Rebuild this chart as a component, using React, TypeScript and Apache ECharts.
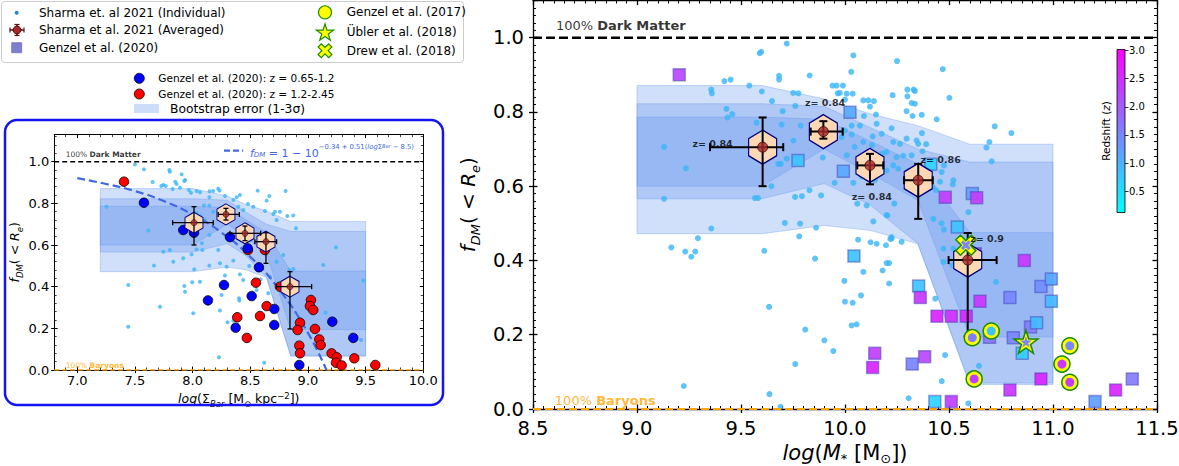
import React, { useEffect, useRef } from 'react';
import * as echarts from 'echarts';

const FONT = 'DejaVu Sans';

// ================= MAIN PANEL: f_DM vs log(M*) =================
const massTicks = [8.5, 9.0, 9.5, 10.0, 10.5, 11.0, 11.5];
const fdmTicks = [0.0, 0.2, 0.4, 0.6, 0.8, 1.0];

// Sharma et al. 2021 individual galaxies [logM*, fDM]
const sharmaIndividualMass: number[][] = [
  [9.13, 0.706], [9.13, 0.566], [9.235, 0.648], [9.357, 0.86], [9.36, 0.85], [9.42, 0.883], [9.45, 0.887], [9.43, 0.808],
  [9.435, 0.785], [9.458, 0.794], [9.54, 0.871], [9.6, 0.855], [9.59, 0.958], [9.597, 0.962], [9.575, 0.771], [9.567, 0.568],
  [9.582, 0.568], [9.357, 0.486], [9.293, 0.46], [9.165, 0.435], [9.232, 0.424], [9.28, 0.424], [9.261, 0.41], [9.225, 0.062],
  [9.637, 0.04], [9.612, 0.426], [9.635, 0.275], [9.69, 0.006], [9.72, 0.984], [9.683, 0.897], [9.683, 0.887], [9.83, 0.898],
  [9.776, 0.85], [9.751, 0.851], [9.7, 0.802], [9.649, 0.829], [9.761, 0.816], [9.695, 0.766], [9.787, 0.763], [9.752, 0.723],
  [9.72, 0.674], [9.691, 0.66], [9.639, 0.689], [9.646, 0.6], [9.679, 0.66], [9.76, 0.571], [9.793, 0.573], [9.829, 0.589],
  [9.885, 0.575], [9.893, 0.677], [9.711, 0.501], [9.784, 0.499], [9.861, 0.488], [9.78, 0.465], [9.856, 0.405], [9.809, 0.214],
  [9.901, 0.185], [9.944, 0.156], [9.761, 0.121], [9.95, 0.609], [10.04, 0.609], [9.94, 0.871], [9.96, 0.871], [9.99, 0.871],
  [10.008, 0.849], [10.037, 0.849], [9.965, 0.85], [9.975, 0.851], [10.0, 0.833], [10.04, 0.952], [10.03, 0.908], [10.25, 0.937],
  [10.47, 0.915], [10.229, 0.845], [10.336, 0.856], [10.502, 0.838], [10.336, 0.822], [10.296, 0.802], [10.325, 0.789], [10.369, 0.792],
  [10.441, 0.78], [10.088, 0.831], [10.112, 0.831], [10.139, 0.829], [10.12, 0.814], [10.149, 0.793], [10.091, 0.789], [10.152, 0.768],
  [10.072, 0.763], [10.032, 0.763], [10.0, 0.75], [10.032, 0.739], [9.984, 0.732], [10.088, 0.719], [10.224, 0.756], [10.176, 0.741],
  [10.133, 0.734], [10.232, 0.719], [10.296, 0.728], [10.344, 0.723], [10.352, 0.714], [10.373, 0.694], [10.264, 0.714], [10.2, 0.692],
  [10.248, 0.678], [10.008, 0.683], [10.104, 0.633], [10.08, 0.626], [10.2, 0.642], [10.144, 0.616], [10.232, 0.656], [10.256, 0.647],
  [10.476, 0.656], [10.465, 0.638], [10.521, 0.616], [10.518, 0.605], [10.457, 0.612], [10.42, 0.598], [10.438, 0.589], [10.059, 0.553],
  [10.104, 0.548], [10.237, 0.553], [10.203, 0.521], [10.425, 0.512], [10.476, 0.483], [10.224, 0.463], [10.272, 0.45], [10.136, 0.505],
  [10.152, 0.445], [10.197, 0.441], [10.088, 0.369], [10.2, 0.393], [10.212, 0.393], [10.181, 0.373], [10.212, 0.338], [9.997, 0.345],
  [10.077, 0.306], [10.0, 0.289], [10.037, 0.286], [10.056, 0.228], [10.032, 0.225], [10.434, 0.297], [10.481, 0.145], [10.465, 0.075],
  [10.644, 0.116], [10.306, 0.029], [10.593, 0.015], [10.473, 0.432], [10.473, 0.396], [10.518, 0.387], [10.521, 0.432], [10.705, 0.667],
  [10.694, 0.719], [10.72, 0.761], [10.8, 0.743], [10.68, 0.704], [10.593, 0.53], [10.464, 0.5], [10.2, 0.522], [10.224, 0.459],
  [10.726, 0.342], [10.063, 0.456], [10.123, 0.449], [10.218, 0.458], [10.046, 0.706], [10.13, 0.711], [10.18, 0.688], [10.28, 0.682],
  [10.32, 0.683], [10.37, 0.743], [10.39, 0.713], [10.3, 0.86], [10.33, 0.86], [10.3, 0.842], [10.32, 0.824],
];

// Genzel et al. (2020) squares [logM*, fDM, z]
const genzel2020: number[][] = [
  [9.203, 0.9, 2.2], [10.024, 0.799, 1.1], [9.774, 0.669, 0.8], [9.992, 0.64, 1.1], [10.412, 0.659, 0.6], [10.482, 0.57, 2.3],
  [10.612, 0.58, 1.2], [10.633, 0.569, 2.3], [10.54, 0.49, 0.8], [10.043, 0.412, 0.8], [10.354, 0.331, 0.8], [10.362, 0.3, 2.4],
  [10.442, 0.25, 2.6], [10.511, 0.25, 2.5], [10.583, 0.25, 2.6], [10.626, 0.418, 2.3], [10.862, 0.4, 2.4], [10.649, 0.29, 2.4],
  [10.793, 0.3, 1.5], [10.942, 0.33, 1.4], [10.992, 0.35, 1.1], [10.992, 0.29, 0.9], [10.695, 0.193, 1.6], [10.809, 0.192, 1.5],
  [10.892, 0.221, 1.6], [10.921, 0.232, 0.9], [10.852, 0.15, 0.7], [10.323, 0.121, 1.5], [10.383, 0.141, 2.2], [10.143, 0.15, 2.3],
  [10.133, 0.112, 2.6], [10.942, 0.081, 2.6], [10.793, 0.051, 2.4], [11.301, 0.051, 2.6], [11.381, 0.081, 1.6], [10.432, 0.02, 0.6],
  [10.511, 0.02, 2.3], [11.202, 0.02, 1.2],
];
// Genzel et al. (2017) [logM*, fDM, z]
const genzel2017: number[][] = [
  [10.612, 0.192, 1.6], [10.703, 0.21, 0.8], [11.081, 0.17, 1.5], [11.043, 0.121, 2.4], [11.081, 0.072, 2.3], [10.621, 0.081, 2.3],
];
const ubler2018: number[][] = [[10.87, 0.181, 1.5]];
const drew2018: number[][] = [[10.581, 0.441, 1.5]];

// Sharma et al. 2021 averaged (bins)
const avgMass = [9.604, 9.896, 10.12, 10.352, 10.59];
const avgFdm = [0.705, 0.747, 0.656, 0.616, 0.401];
const avgMassLo = [9.351, 9.835, 10.059, 10.284, 10.498];
const avgMassHi = [9.703, 9.989, 10.184, 10.422, 10.729];
const avgFdmLo = [0.6, 0.728, 0.605, 0.512, 0.196];
const avgFdmHi = [0.785, 0.775, 0.687, 0.66, 0.474];
const avgZText = ['z= 0.84', 'z= 0.84', 'z= 0.84', 'z= 0.86', 'z= 0.9'];
const avgZLabelX = [9.363, 9.904, 10.129, 10.46, 10.683];
const avgZLabelY = [0.714, 0.825, 0.573, 0.672, 0.46];

// Bootstrap bands (1-3 sigma)
const bandMass = [9.0, 9.6, 9.9, 10.12, 10.35, 10.6, 11.0];
const sig3Up = [0.871, 0.871, 0.835, 0.795, 0.763, 0.713, 0.713];
const sig3Lo = [0.472, 0.472, 0.494, 0.481, 0.445, 0.066, 0.066];
const sig2Up = [0.822, 0.822, 0.815, 0.758, 0.7, 0.665, 0.665];
const sig2Lo = [0.566, 0.566, 0.607, 0.55, 0.445, 0.07, 0.07];
const sig1Up = [0.786, 0.786, 0.78, 0.722, 0.66, 0.475, 0.475];
const sig1Lo = [0.6, 0.6, 0.7, 0.635, 0.562, 0.194, 0.194];

// ================= INSET: f_DM vs log(Sigma_Bar) =================
const sigmaTicks = [7.0, 7.5, 8.0, 8.5, 9.0, 9.5, 10.0];
const sharmaIndividualSigma: number[][] = [
  [7.5, 0.987], [7.578, 0.963], [7.798, 0.96], [7.803, 0.952], [7.905, 0.939], [7.936, 0.912], [7.928, 0.907], [7.653, 0.902],
  [7.746, 0.888], [7.728, 0.883], [7.766, 0.883], [7.85, 0.904], [7.861, 0.893], [7.827, 0.869], [7.89, 0.875], [7.968, 0.864],
  [7.986, 0.851], [8.035, 0.859], [8.064, 0.853], [8.147, 0.858], [8.179, 0.859], [8.145, 0.829], [8.222, 0.87], [8.234, 0.861],
  [8.28, 0.835], [8.353, 0.816], [8.382, 0.829], [8.41, 0.84], [8.564, 0.861], [8.806, 0.859], [8.665, 0.835], [8.642, 0.813],
  [8.48, 0.797], [8.526, 0.784], [8.627, 0.763], [8.714, 0.76], [8.757, 0.76], [8.699, 0.749], [8.873, 0.742], [8.821, 0.739],
  [8.896, 0.68], [8.728, 0.72], [8.353, 0.771], [8.396, 0.784], [8.439, 0.768], [8.145, 0.789], [8.179, 0.76], [8.098, 0.79],
  [8.035, 0.752], [8.069, 0.739], [8.107, 0.72], [7.254, 0.784], [7.616, 0.669], [7.746, 0.568], [7.665, 0.501], [7.803, 0.576],
  [7.832, 0.52], [7.919, 0.536], [8.014, 0.483], [7.991, 0.555], [8.035, 0.579], [8.084, 0.576], [8.081, 0.608], [8.145, 0.648],
  [8.222, 0.576], [8.145, 0.501], [8.237, 0.512], [8.28, 0.454], [8.295, 0.496], [8.353, 0.525], [8.41, 0.459], [8.439, 0.432],
  [8.491, 0.499], [8.59, 0.435], [8.656, 0.368], [8.671, 0.448], [8.786, 0.552], [8.838, 0.48], [8.873, 0.485], [8.728, 0.52],
  [8.916, 0.424], [9.243, 0.589], [9.133, 0.504], [9.48, 0.429], [7.442, 0.408], [7.442, 0.208], [7.717, 0.304], [7.928, 0.403],
  [7.997, 0.421], [7.934, 0.376], [8.064, 0.424], [8.402, 0.344], [8.405, 0.333], [8.237, 0.286], [8.251, 0.36], [8.006, 0.272],
  [8.303, 0.229], [8.353, 0.237], [8.387, 0.269], [8.555, 0.384], [8.621, 0.035], [8.228, 0.061], [9.46, 0.144], [9.153, 0.275],
];
const genzelLowZ: number[][] = [
  [7.578, 0.803], [7.919, 0.672], [8.012, 0.659], [8.324, 0.638], [8.133, 0.334], [8.272, 0.408], [8.373, 0.203], [8.512, 0.355],
  [8.477, 0.584], [8.575, 0.493], [8.708, 0.293], [8.708, 0.216], [8.925, 0.024], [9.211, 0.232], [9.393, 0.154],
];
const genzelHighZ: number[][] = [
  [7.405, 0.904], [8.549, 0.419], [8.387, 0.253], [8.47, 0.154], [8.584, 0.259], [8.642, 0.307], [8.757, 0.4], [8.931, 0.227],
  [8.91, 0.192], [8.925, 0.117], [8.931, 0.08], [9.026, 0.336], [9.017, 0.307], [9.046, 0.288], [9.061, 0.197], [9.098, 0.147],
  [9.11, 0.12], [9.205, 0.08], [9.249, 0.061], [9.243, 0.035], [9.292, 0.022], [9.402, 0.056], [9.584, 0.024], [8.48, 0.576],
  [8.627, 0.576],
];
const fitSigma = [7.0, 7.25, 7.5, 7.75, 8.0, 8.25, 8.5, 8.75, 9.0, 9.16];
const fitFdm = [0.921, 0.893, 0.859, 0.811, 0.746, 0.66, 0.543, 0.387, 0.178, 0.0];
const avgSigma = [8.012, 8.289, 8.454, 8.636, 8.844];
const avgSigmaLo = [7.827, 8.222, 8.324, 8.54, 8.728];
const avgSigmaHi = [8.179, 8.405, 8.59, 8.728, 9.032];
const avgFdmInset = [0.707, 0.747, 0.656, 0.616, 0.4];
const avgFdmInsetLo = [0.6, 0.72, 0.621, 0.512, 0.197];
const avgFdmInsetHi = [0.784, 0.776, 0.691, 0.659, 0.472];
const bandSigma = [7.2, 8.0, 8.3, 8.46, 8.64, 8.85, 9.5];

// colour bar
const redshiftTicks = [0.5, 1.0, 1.5, 2.0, 2.5, 3.0];
const zMin = 0.12;
const zMax = 3.02;

// ------------------------------------------------------------------
const HEX = 'path://M50,0L93.3,25L93.3,75L50,100L6.7,75L6.7,25Z';
const STAR = 'path://M0,-100L22.45,-30.9L95.1,-30.9L36.3,11.8L58.8,80.9L0,38.2L-58.8,80.9L-36.3,11.8L-95.1,-30.9L-22.45,-30.9Z';
const XMARK = 'path://M49.5,-91.9L91.9,-49.5L42.4,0L91.9,49.5L49.5,91.9L0,42.4L-49.5,91.9L-91.9,49.5L-42.4,0L-91.9,-49.5L-49.5,-91.9L0,-42.4Z';
const BAND_FILL = 'rgba(100,149,237,0.3)';
const DOT = '#3ab5f7';
const GREEN = '#1c8a00';
const f1 = (v: number) => v.toFixed(1);

function base(gridIndex: number, min: number, max: number): any {
  return {
    gridIndex, type: 'value', min, max,
    splitLine: { show: false }, axisLabel: { show: false },
    axisLine: { show: false, onZero: false }, axisTick: { show: false },
  };
}

function frame(gridIndex: number, dir: 'x' | 'y', min: number, max: number, o: any): any[] {
  const lw = o.lw;
  const lineOn = { show: true, onZero: false, lineStyle: { color: '#000', width: lw } };
  const tk = (inside: boolean, length: number, w: number, extra: any = {}) => ({ show: true, inside, length, lineStyle: { color: '#000', width: w }, ...extra });
  const p1 = dir === 'x' ? 'bottom' : 'left';
  const p2 = dir === 'x' ? 'top' : 'right';
  const major = o.majorCustom ? { customValues: o.majorCustom } : {};
  const majorInterval = o.majorCustom ? {} : { interval: o.major };
  return [
    {
      ...base(gridIndex, min, max), ...majorInterval, position: p1, axisLine: lineOn,
      axisTick: tk(false, o.outLen, lw, major),
      axisLabel: { show: true, fontSize: o.fs, color: '#000', fontFamily: FONT, margin: o.margin, formatter: f1, showMaxLabel: o.showMax, ...major },
      ...o.name,
    },
    { ...base(gridIndex, min, max), ...majorInterval, position: p1, axisTick: tk(true, o.inLen, lw, major) },
    { ...base(gridIndex, min, max), interval: o.minor, position: p1, axisTick: tk(true, o.minLen, lw * 0.75) },
    { ...base(gridIndex, min, max), ...majorInterval, position: p2, axisLine: lineOn, axisTick: tk(true, o.inLen, lw, major) },
    { ...base(gridIndex, min, max), interval: o.minor, position: p2, axisTick: tk(true, o.minLen, lw * 0.75) },
  ];
}

function richLabel(fs: number, sub: number, lift: number) {
  return {
    i: { fontFamily: FONT, fontStyle: 'italic', fontSize: fs, lineHeight: fs + 4, verticalAlign: 'top', color: '#000' },
    n: { fontFamily: FONT, fontSize: fs, lineHeight: fs + 4, verticalAlign: 'top', color: '#000' },
    s: { fontFamily: FONT, fontSize: sub, lineHeight: sub, verticalAlign: 'bottom', padding: [0, 0, lift, 0], color: '#000' },
    si: { fontFamily: FONT, fontStyle: 'italic', fontSize: sub, lineHeight: sub, verticalAlign: 'bottom', padding: [0, 0, lift, 0], color: '#000' },
    p: { fontFamily: FONT, fontSize: sub, lineHeight: sub, verticalAlign: 'top', color: '#000' },
  };
}

const bandRender = (xs: number[], bands: { up: number[]; lo: number[] }[]) => (params: any, api: any) => {
  const b = bands[params.dataIndex];
  const upper = xs.map((x, k) => api.coord([x, b.up[k]]));
  const lower = xs.map((x, k) => api.coord([x, b.lo[k]])).reverse();
  return { type: 'polygon', shape: { points: upper.concat(lower) }, style: { fill: BAND_FILL, stroke: 'rgba(100,149,237,0.35)', lineWidth: 1 } };
};

const errRender = (cap: number, lw: number) => (params: any, api: any) => {
  const x = api.value(0), y = api.value(1), xl = api.value(2), xh = api.value(3), yl = api.value(4), yh = api.value(5);
  const L = api.coord([xl, y]), R = api.coord([xh, y]), T = api.coord([x, yh]), B = api.coord([x, yl]);
  const st = { stroke: '#000', lineWidth: lw };
  const seg = (x1: number, y1: number, x2: number, y2: number) => ({ type: 'line', shape: { x1, y1, x2, y2 }, style: st });
  return {
    type: 'group',
    children: [
      seg(L[0], L[1], R[0], R[1]), seg(T[0], T[1], B[0], B[1]),
      seg(L[0], L[1] - cap, L[0], L[1] + cap), seg(R[0], R[1] - cap, R[0], R[1] + cap),
      seg(T[0] - cap, T[1], T[0] + cap, T[1]), seg(B[0] - cap, B[1], B[0] + cap, B[1]),
    ],
  };
};

function starPts(cx: number, cy: number, R: number) {
  const pts: number[][] = [];
  for (let k = 0; k < 10; k++) {
    const r = k % 2 === 0 ? R : R * 0.382;
    const a = -Math.PI / 2 + (k * Math.PI) / 5;
    pts.push([cx + r * Math.cos(a), cy + r * Math.sin(a)]);
  }
  return pts;
}
const xShape = [[0.495, -0.919], [0.919, -0.495], [0.424, 0], [0.919, 0.495], [0.495, 0.919], [0, 0.424], [-0.495, 0.919], [-0.919, 0.495], [-0.424, 0], [-0.919, -0.495], [-0.495, -0.919], [0, -0.424]];
const xPts = (cx: number, cy: number, s: number) => xShape.map(([a, b]) => [cx + a * s, cy + b * s]);

function text(x: number, y: number, t: string, fs: number, extra: any = {}) {
  return {
    type: 'text', x, y, z: 101,
    style: { text: t, fill: '#000', fontSize: fs, fontFamily: FONT, align: 'left', verticalAlign: 'middle', textAlign: 'left', textVerticalAlign: 'middle', ...extra },
  };
}
function seg(x1: number, y1: number, x2: number, y2: number, lw = 1.5, stroke = '#000', extra: any = {}) {
  return { type: 'line', z: 101, shape: { x1, y1, x2, y2 }, style: { stroke, lineWidth: lw, ...extra } };
}

function buildOption() {
  const mainBands = [{ up: sig3Up, lo: sig3Lo }, { up: sig2Up, lo: sig2Lo }, { up: sig1Up, lo: sig1Lo }];
  const mainErr = avgMass.map((x, i) => [x, avgFdm[i], avgMassLo[i], avgMassHi[i], avgFdmLo[i], avgFdmHi[i]]);
  const insetErr = avgSigma.map((x, i) => [x, avgFdmInset[i], avgSigmaLo[i], avgSigmaHi[i], avgFdmInsetLo[i], avgFdmInsetHi[i]]);
  const mainAvg = avgMass.map((x, i) => [x, avgFdm[i]]);
  const insetAvg = avgSigma.map((x, i) => [x, avgFdmInset[i]]);

  const mainX = frame(0, 'x', 8.5, 11.5, {
    lw: 1.3, major: 0.5, minor: 0.05, outLen: 4, inLen: 4.5, minLen: 3, fs: 19.5, margin: 9, showMax: true,
    name: {
      name: '{i|log}{n|(}{i|M}{s|*}{n| [M}{s|⊙}{n|])}', nameLocation: 'middle', nameGap: 25,
      nameTextStyle: { rich: richLabel(21, 13, 3) },
    },
  });
  const mainY = frame(0, 'y', 0, 1.1, {
    lw: 1.3, major: 0.2, minor: 0.02, outLen: 4, inLen: 4.5, minLen: 3, fs: 19.5, margin: 9, showMax: false,
    name: {
      name: '{i|f}{si|DM}{n|( < }{i|R}{si|e}{n|)}', nameLocation: 'middle', nameGap: 45, nameRotate: 90,
      nameTextStyle: { rich: richLabel(20, 13, 0) },
    },
  });
  const insetX = frame(1, 'x', 6.8, 10.0, {
    lw: 1.0, majorCustom: sigmaTicks, minor: 0.1, outLen: 3, inLen: 3.5, minLen: 2.5, fs: 13, margin: 4, showMax: true,
    name: {
      name: '{i|log}{n|(Σ}{si|Bar}{n| [M}{s|⊙}{n| kpc}{p|−2}{n|])}', nameLocation: 'middle', nameGap: 16,
      nameTextStyle: { rich: richLabel(12.5, 8.5, 0) },
    },
  });
  const insetY = frame(1, 'y', 0, 1.13, {
    lw: 1.0, major: 0.2, minor: 0.04, outLen: 3, inLen: 3.5, minLen: 2.5, fs: 13, margin: 5, showMax: false,
    name: {
      name: '{i|f}{si|DM}{n|( < }{i|R}{si|e}{n|)}', nameLocation: 'middle', nameGap: 26, nameRotate: 90,
      nameTextStyle: { rich: richLabel(12.5, 8.5, 0) },
    },
  });
  const cbX = [{ ...base(2, 0, 1), position: 'bottom' }];
  const cbY = [
    {
      ...base(2, zMin, zMax), position: 'right',
      axisTick: { show: true, inside: false, length: 3.5, customValues: redshiftTicks, lineStyle: { color: '#000', width: 0.8 } },
      axisLabel: { show: true, customValues: redshiftTicks, fontSize: 10, color: '#000', fontFamily: FONT, margin: 4, formatter: f1 },
    },
    {
      ...base(2, zMin, zMax), position: 'left',
      name: '{n|Redshift (}{i|z}{n|)}', nameLocation: 'middle', nameGap: 6, nameRotate: 90,
      nameTextStyle: {
        rich: {
          n: { fontFamily: FONT, fontSize: 10.5, color: '#000' },
          i: { fontFamily: FONT, fontSize: 10.5, fontStyle: 'italic', color: '#000' },
        },
      },
    },
  ];

  const M = { xAxisIndex: 0, yAxisIndex: 0 };
  const I = { xAxisIndex: 5, yAxisIndex: 5 };

  const series: any[] = [
    { type: 'custom', ...M, z: 1, silent: true, data: mainBands.map((b) => [bandMass[0], b.lo[0]]), renderItem: bandRender(bandMass, mainBands) },
    { type: 'scatter', ...M, z: 2, symbolSize: 6, itemStyle: { color: DOT }, data: sharmaIndividualMass },
    { type: 'scatter', ...M, z: 3, symbol: 'rect', symbolSize: 12, itemStyle: { opacity: 0.92, borderColor: 'rgba(70,70,180,0.55)', borderWidth: 1.5 }, data: genzel2020 },
    { type: 'line', ...M, z: 3, symbol: 'none', silent: true, lineStyle: { color: '#000', width: 2.5, type: [9, 4] }, data: [[8.5, 1.0], [11.5, 1.0]] },
    { type: 'line', ...M, z: 3, symbol: 'none', silent: true, lineStyle: { color: '#ffa500', width: 2, type: [8, 4] }, data: [[8.5, 0.0], [11.5, 0.0]] },
    { type: 'scatter', ...M, z: 4, symbol: HEX, symbolSize: [28, 34], itemStyle: { color: '#fdd8b5', borderColor: '#000080', borderWidth: 1.3, opacity: 1 }, data: mainAvg },
    { type: 'custom', ...M, z: 5, silent: true, data: mainErr, encode: { x: 0, y: 1 }, renderItem: errRender(4, 2) },
    { type: 'scatter', ...M, z: 6, symbolSize: 10, itemStyle: { color: '#a52a2a', borderColor: '#3a0000', borderWidth: 1 }, data: mainAvg },
    { type: 'scatter', ...M, z: 7, symbolSize: 16, itemStyle: { color: '#ffff00', borderColor: GREEN, borderWidth: 1.5, opacity: 1 }, data: genzel2017 },
    { type: 'scatter', ...M, z: 8, symbolSize: 9, itemStyle: { opacity: 1 }, data: genzel2017 },
    { type: 'scatter', ...M, z: 7, symbol: STAR, symbolSize: [24, 23], itemStyle: { color: '#ffff00', borderColor: GREEN, borderWidth: 1.5, opacity: 1 }, data: ubler2018 },
    { type: 'scatter', ...M, z: 8, symbol: STAR, symbolSize: [12, 11.5], itemStyle: { opacity: 1 }, data: ubler2018 },
    { type: 'scatter', ...M, z: 7, symbol: XMARK, symbolSize: [20, 20], itemStyle: { color: '#ffff00', borderColor: GREEN, borderWidth: 1.5, opacity: 1 }, data: drew2018 },
    { type: 'scatter', ...M, z: 8, symbol: XMARK, symbolSize: [10, 10], itemStyle: { opacity: 1 }, data: drew2018 },
    {
      type: 'scatter', ...M, z: 9, symbolSize: 0, silent: true,
      label: { show: true, position: 'inside', formatter: '{b}', fontSize: 9.5, fontWeight: 'bold', color: '#000', fontFamily: FONT },
      data: avgZLabelX.map((x, i) => ({ name: avgZText[i], value: [x, avgZLabelY[i]] })),
    },
    {
      type: 'scatter', ...M, z: 9, symbolSize: 0, silent: true,
      label: {
        show: true, position: 'right', distance: 0, formatter: (p: any) => p.name,
        rich: {
          n: { fontFamily: FONT, fontSize: 13, color: '#000' }, b: { fontFamily: FONT, fontSize: 13, fontWeight: 'bold', color: '#000' },
          on: { fontFamily: FONT, fontSize: 13, color: '#ffa500' }, ob: { fontFamily: FONT, fontSize: 13, fontWeight: 'bold', color: '#ffa500' },
        },
      },
      data: [
        { name: '{n|100% }{b|Dark Matter}', value: [8.61, 1.032] },
        { name: '{on|100% }{ob|Baryons}', value: [8.605, 0.023] },
      ],
    },
    { type: 'custom', ...I, z: 1, silent: true, data: mainBands.map((b) => [bandSigma[0], b.lo[0]]), renderItem: bandRender(bandSigma, mainBands) },
    { type: 'scatter', ...I, z: 2, symbolSize: 4, itemStyle: { color: DOT }, data: sharmaIndividualSigma },
    { type: 'scatter', ...I, z: 3, symbolSize: 9.5, itemStyle: { color: '#ff0000', borderColor: '#000', borderWidth: 0.8, opacity: 1 }, data: genzelHighZ },
    { type: 'scatter', ...I, z: 3, symbolSize: 9.5, itemStyle: { color: '#0000ff', borderColor: '#000', borderWidth: 0.8, opacity: 1 }, data: genzelLowZ },
    { type: 'line', ...I, z: 3, symbol: 'none', silent: true, lineStyle: { color: '#000', width: 1.5, type: [5, 3] }, data: [[6.8, 1.0], [10.0, 1.0]] },
    { type: 'line', ...I, z: 3, symbol: 'none', silent: true, lineStyle: { color: '#ffa500', width: 1.4, type: [5, 3] }, data: [[6.8, 0.0], [10.0, 0.0]] },
    { type: 'line', ...I, z: 3, symbol: 'none', smooth: true, silent: true, lineStyle: { color: '#4169e1', width: 2.2, type: [8, 4] }, data: fitSigma.map((x, i) => [x, fitFdm[i]]) },
    { type: 'scatter', ...I, z: 4, symbol: HEX, symbolSize: [18, 21], itemStyle: { color: '#fdd8b5', borderColor: '#000080', borderWidth: 1, opacity: 1 }, data: insetAvg },
    { type: 'custom', ...I, z: 5, silent: true, data: insetErr, encode: { x: 0, y: 1 }, renderItem: errRender(2.5, 1.3) },
    { type: 'scatter', ...I, z: 6, symbolSize: 6, itemStyle: { color: '#a52a2a', borderColor: '#3a0000', borderWidth: 0.8 }, data: insetAvg },
    {
      type: 'scatter', ...I, z: 9, symbolSize: 0, silent: true,
      label: {
        show: true, position: 'right', distance: 0, formatter: (p: any) => p.name,
        rich: {
          n: { fontFamily: FONT, fontSize: 7.5, color: '#000' }, b: { fontFamily: FONT, fontSize: 7.5, fontWeight: 'bold', color: '#000' },
          on: { fontFamily: FONT, fontSize: 7.5, color: '#ffa500' }, ob: { fontFamily: FONT, fontSize: 7.5, fontWeight: 'bold', color: '#ffa500' },
        },
      },
      data: [
        { name: '{n|100% }{b|Dark Matter}', value: [6.9, 1.035] },
        { name: '{on|100% }{ob|Baryons}', value: [6.9, 0.024] },
      ],
    },
    {
      type: 'custom', xAxisIndex: 10, yAxisIndex: 10, z: 10, silent: true, data: [[0, zMin]],
      renderItem: (params: any, api: any) => {
        const a = api.coord([0, zMax]);
        const b = api.coord([1, zMin]);
        return {
          type: 'rect', shape: { x: a[0], y: a[1], width: b[0] - a[0], height: b[1] - a[1] },
          style: {
            fill: new echarts.graphic.LinearGradient(0, 0, 0, 1, [{ offset: 0, color: '#ff00ff' }, { offset: 1, color: '#00ffff' }]),
            stroke: '#000', lineWidth: 0.8,
          },
        };
      },
    },
  ];

  const BL = '#4169e1';
  const blueRich = {
    f: { fontFamily: FONT, fontStyle: 'italic', fontSize: 11, lineHeight: 15, verticalAlign: 'bottom', color: BL },
    fs: { fontFamily: FONT, fontStyle: 'italic', fontSize: 7, lineHeight: 7, verticalAlign: 'bottom', color: BL },
    n: { fontFamily: FONT, fontSize: 11, lineHeight: 15, verticalAlign: 'bottom', color: BL },
    p: { fontFamily: FONT, fontSize: 6.8, lineHeight: 8, verticalAlign: 'top', color: BL },
    pi: { fontFamily: FONT, fontStyle: 'italic', fontSize: 6.8, lineHeight: 8, verticalAlign: 'top', color: BL },
    ps: { fontFamily: FONT, fontStyle: 'italic', fontSize: 5, lineHeight: 11, verticalAlign: 'top', color: BL },
  };

  const graphic: any[] = [
    { type: 'rect', z: 100, shape: { x: 1.5, y: 1.5, width: 462, height: 61, r: 3 }, style: { fill: '#fff', stroke: '#cccccc', lineWidth: 1 } },
    { type: 'circle', z: 101, shape: { cx: 16.7, cy: 12.7, r: 2 }, style: { fill: '#2b86c9' } },
    text(39, 12.7, 'Sharma et. al 2021 (Individual)', 12),
    seg(10, 30, 24, 30, 1.5, '#5a1010'), seg(17, 24.5, 17, 35.5, 1.5, '#5a1010'),
    seg(10, 27.5, 10, 32.5, 1.2, '#5a1010'), seg(24, 27.5, 24, 32.5, 1.2, '#5a1010'),
    seg(14.5, 24.5, 19.5, 24.5, 1.2, '#5a1010'), seg(14.5, 35.5, 19.5, 35.5, 1.2, '#5a1010'),
    { type: 'circle', z: 102, shape: { cx: 17, cy: 30, r: 4 }, style: { fill: '#a52a2a', stroke: '#3a0000', lineWidth: 0.8 } },
    text(39, 30, 'Sharma et al. 2021 (Averaged)', 12),
    { type: 'rect', z: 101, shape: { x: 11.7, y: 42.7, width: 10, height: 10 }, style: { fill: '#7f7fcf', stroke: '#7070c0', lineWidth: 0.8 } },
    text(39, 47.7, 'Genzel et al. (2020)', 12),
    { type: 'circle', z: 101, shape: { cx: 325, cy: 12.3, r: 6.5 }, style: { fill: '#ffff00', stroke: GREEN, lineWidth: 1.2 } },
    text(346.7, 12.3, 'Genzel et al. (2017)', 12),
    { type: 'polygon', z: 101, shape: { points: starPts(325, 33, 9) }, style: { fill: '#ffff00', stroke: GREEN, lineWidth: 1.2 } },
    text(346.7, 32.3, 'Übler et al. (2018)', 12),
    { type: 'polygon', z: 101, shape: { points: xPts(325, 50.7, 7.5) }, style: { fill: '#ffff00', stroke: GREEN, lineWidth: 1.2 } },
    text(346.7, 50.7, 'Drew et al. (2018)', 12),
    { type: 'circle', z: 101, shape: { cx: 139.3, cy: 78.3, r: 5 }, style: { fill: '#0000ff', stroke: '#000', lineWidth: 0.8 } },
    text(158.3, 78.3, 'Genzel et al. (2020): z = 0.65-1.2', 10.5),
    { type: 'circle', z: 101, shape: { cx: 139.3, cy: 94, r: 5 }, style: { fill: '#ff0000', stroke: '#000', lineWidth: 0.8 } },
    text(158.3, 94, 'Genzel et al. (2020): z = 1.2-2.45', 10.5),
    { type: 'rect', z: 101, shape: { x: 134, y: 104, width: 25, height: 9 }, style: { fill: 'rgba(100,149,237,0.33)' } },
    text(170, 108.5, 'Bootstrap error (1-3σ)', 12.3),
    { type: 'rect', z: 101, shape: { x: 5, y: 120, width: 438, height: 285, r: 12 }, style: { fill: 'none', stroke: '#1414f0', lineWidth: 2.5 } },
    seg(224, 150.7, 243, 150.7, 2.2, BL, { lineDash: [6, 3] }),
    {
      type: 'text', z: 101, x: 250, y: 151,
      style: {
        text: '{f|f}{fs|DM}{n| = 1 − 10}{p|−0.34 + 0.51(}{pi|log}{p|Σ}{ps|Bar}{p| − 8.5)}',
        rich: blueRich, fill: BL, align: 'left', verticalAlign: 'middle', textAlign: 'left', textVerticalAlign: 'middle',
      },
    },
  ];

  return {
    animation: false,
    backgroundColor: '#ffffff',
    textStyle: { fontFamily: FONT },
    grid: [
      { left: 533, top: 0.5, width: 624, height: 408.5, containLabel: false, outerBoundsMode: 'none' },
      { left: 54.2, top: 134.6, width: 369.1, height: 235.4, containLabel: false, outerBoundsMode: 'none' },
      { left: 1117, top: 49.5, width: 8, height: 163, containLabel: false, outerBoundsMode: 'none' },
    ],
    xAxis: [...mainX, ...insetX, ...cbX],
    yAxis: [...mainY, ...insetY, ...cbY],
    visualMap: [
      {
        type: 'continuous', show: false, seriesIndex: [2, 9, 11, 13], dimension: 2, min: 0.12, max: 3.0,
        inRange: { color: ['#00ffff', '#ff00ff'] },
      },
    ],
    series,
    graphic: { elements: graphic },
  };
}

export default function App() {
  const ref = useRef<HTMLDivElement>(null);
  useEffect(() => {
    const chart = echarts.init(ref.current as HTMLDivElement, null, { renderer: 'svg' });
    chart.setOption(buildOption() as any);
    return () => chart.dispose();
  }, []);
  return <div ref={ref} style={{ position: 'fixed', left: 0, top: 0, width: 1179, height: 466, background: '#fff' }} />;
}
